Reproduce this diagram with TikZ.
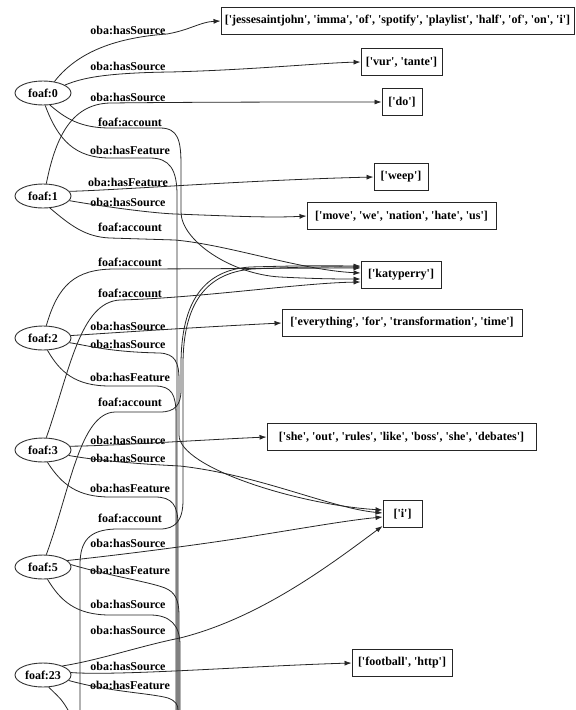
\documentclass[tikz,border=0pt]{standalone}
\usepackage{fontspec}
\setmainfont{Liberation Serif}
\usetikzlibrary{shapes.geometric,arrows.meta}
\newcommand\lab{\bfseries\fontsize{12}{14}\selectfont}
\newcommand\sq[1]{\textquotesingle#1\textquotesingle}
\begin{document}
\begin{tikzpicture}[x=1pt,y=-1pt,
  ent/.style={ellipse, draw=black!80, line width=0.9pt, minimum width=56pt, minimum height=24pt, inner sep=0pt, font=\lab},
  val/.style={rectangle, draw=black!85, line width=0.9pt, minimum height=27pt, inner xsep=3pt, font=\lab},
  elab/.style={font=\lab, inner sep=0pt},
  rel/.style={draw=black!85, line width=0.8pt},
  arr/.style={rel, -{Latex[length=7pt,width=5pt]}}]
\useasboundingbox (0,0) rectangle (576,710);
\fill[white] (0,0) rectangle (576,710);
% entity nodes
\node[ent] (f0) at (43,93) {foaf:0};
\node[ent] (f1) at (43,196) {foaf:1};
\node[ent] (f2) at (43,338) {foaf:2};
\node[ent] (f3) at (43,450) {foaf:3};
\node[ent] (f5) at (43,567) {foaf:5};
\node[ent] (f23) at (43,675) {foaf:23};
% value nodes
\node[val, minimum width=353pt] (jesse) at (397.5,21) {[\sq{jessesaintjohn}, \sq{imma}, \sq{of}, \sq{spotify}, \sq{playlist}, \sq{half}, \sq{of}, \sq{on}, \sq{i}]};
\node[val, minimum width=81pt] (vur) at (401.5,62) {[\sq{vur}, \sq{tante}]};
\node[val, minimum width=40pt] (do) at (402,102) {[\sq{do}]};
\node[val, minimum width=54pt] (weep) at (401,177) {[\sq{weep}]};
\node[val, minimum width=189pt] (move) at (401.5,216) {[\sq{move}, \sq{we}, \sq{nation}, \sq{hate}, \sq{us}]};
\node[val, minimum width=80pt] (kp) at (401,275) {[\sq{katyperry}]};
\node[val, minimum width=240pt] (every) at (402,323) {[\sq{everything}, \sq{for}, \sq{transformation}, \sq{time}]};
\node[val, minimum width=269pt] (she) at (401.5,437) {[\sq{she}, \sq{out}, \sq{rules}, \sq{like}, \sq{boss}, \sq{she}, \sq{debates}]};
\node[val, minimum width=39pt] (vi) at (402.5,514) {[\sq{i}]};
\node[val, minimum width=100pt] (foot) at (402,663) {[\sq{football}, \sq{http}]};
% free ends at the lower edge
\coordinate (b0) at (177,710);
\coordinate (b2) at (176,710);
\coordinate (b3) at (178,710);
\coordinate (b5a) at (179,710);
\coordinate (b5b) at (180,710);
\coordinate (b23a) at (178,710);
\coordinate (b23b) at (68,710);
\coordinate (xs) at (80,710);
% edge labels
\node[elab] (l1) at (128,30) {oba:hasSource};
\node[elab] (l2) at (128,66) {oba:hasSource};
\node[elab] (l3) at (128,97) {oba:hasSource};
\node[elab] (l4) at (130,122) {foaf:account};
\node[elab] (l5) at (130,150) {oba:hasFeature};
\node[elab] (l6) at (128,182) {oba:hasFeature};
\node[elab] (l7) at (128,202) {oba:hasSource};
\node[elab] (l8) at (130,227) {foaf:account};
\node[elab] (l9) at (130,262) {foaf:account};
\node[elab] (l10) at (130,293) {foaf:account};
\node[elab] (l11) at (128,326) {oba:hasSource};
\node[elab] (l12) at (128,344) {oba:hasSource};
\node[elab] (l13) at (130,377) {oba:hasFeature};
\node[elab] (l14) at (130,402) {foaf:account};
\node[elab] (l15) at (128,440) {oba:hasSource};
\node[elab] (l16) at (128,458) {oba:hasSource};
\node[elab] (l17) at (130,488) {oba:hasFeature};
\node[elab] (l18) at (130,518) {foaf:account};
\node[elab] (l19) at (128,543) {oba:hasSource};
\node[elab] (l20) at (130,570) {oba:hasFeature};
\node[elab] (l21) at (128,604) {oba:hasSource};
\node[elab] (l22) at (128,630) {oba:hasSource};
\node[elab] (l23) at (128,666) {oba:hasSource};
\node[elab] (l24) at (130,685) {oba:hasFeature};
% foaf:0
\draw[arr] (f0.45) .. controls (75,55) and (110,38) .. (167,34) .. controls (190,30) and (200,22) .. (jesse.west);
\draw[arr] (f0.20) .. controls (78,80) and (95,73) .. (170,72) .. controls (250,70) and (320,63) .. (vur.west);
\draw[arr] (f0.-60) .. controls (65,118) and (80,128) .. (110,128) -- (160,128) .. controls (178,128) and (181,140) .. (181,165) -- (181,212) .. controls (181,240) and (230,274) .. (280,277) .. controls (320,279) and (340,279) .. ([yshift=-4pt]kp.west);
\draw[rel] (f0.-80) .. controls (58,140) and (75,158) .. (110,158) -- (150,158) .. controls (170,158) and (177,170) .. (177,195) -- (b0);
% foaf:1
\draw[arr] (f1.75) .. controls (55,140) and (70,104) .. (110,103) .. controls (200,102) and (300,102) .. (do.west);
\draw[arr] (f1.10) .. controls (120,190) and (250,180) .. (weep.west);
\draw[arr] (f1.-10) .. controls (100,206) and (150,213) .. (175,214) .. controls (230,216) and (270,218) .. (move.west);
\draw[arr] (f1.-60) .. controls (70,225) and (85,237) .. (110,238) -- (175,240) .. controls (230,245) and (300,270) .. ([yshift=2pt]kp.west);
% foaf:2
\draw[arr] (f2.75) .. controls (58,285) and (75,269) .. (115,269) .. controls (200,269) and (300,268) .. ([yshift=7pt]kp.west);
\draw[arr] (f2.5) .. controls (110,333) and (200,327) .. (every.west);
\draw[arr] (f2.-10) .. controls (90,346) and (110,352) .. (160,353) .. controls (175,354) and (179,362) .. (179,380) -- (179,435) .. controls (179,468) and (300,505) .. ([yshift=4pt]vi.west);
\draw[rel] (f2.-70) .. controls (60,372) and (75,386) .. (110,386) -- (155,386) .. controls (172,386) and (176,395) .. (176,415) -- (b2);
% foaf:3
\draw[arr] (f3.75) .. controls (70,370) and (80,302) .. (120,300) .. controls (200,298) and (300,283) .. ([yshift=-7pt]kp.west);
\draw[arr] (f3.8) .. controls (110,446) and (200,440) .. (she.west);
\draw[arr] (f3.-12) .. controls (100,461) and (140,464) .. (180,466) .. controls (260,475) and (330,508) .. ([yshift=1pt]vi.west);
\draw[rel] (f3.-70) .. controls (62,485) and (78,497) .. (110,497) -- (155,497) .. controls (172,497) and (178,505) .. (178,525) -- (b3);
% foaf:5
\draw[arr] (f5.75) .. controls (70,490) and (80,413) .. (115,412) -- (160,412) .. controls (175,412) and (181,405) .. (181,390) -- (181,365) .. controls (181,300) and (205,270) .. (250,267) .. controls (320,265) and (340,266) .. ([yshift=9pt]kp.west);
\draw[arr] (f5.15) .. controls (110,556) and (200,545) .. (260,535) .. controls (310,527) and (350,520) .. ([yshift=-3pt]vi.west);
\draw[rel] (f5.5) .. controls (110,576) and (150,582) .. (165,588) .. controls (175,592) and (179,600) .. (179,615) -- (b5a);
\draw[rel] (f5.-70) .. controls (60,600) and (75,615) .. (110,615) -- (150,615) .. controls (170,615) and (180,625) .. (180,645) -- (b5b);
% foaf:23
\draw[arr] (f23.25) .. controls (100,660) and (140,646) .. (180,638) .. controls (260,618) and (330,565) .. ([yshift=-12pt]vi.west);
\draw[arr] (f23.5) .. controls (120,676) and (250,666) .. (foot.west);
\draw[rel] (f23.-12) .. controls (110,692) and (150,693) .. (168,698) .. controls (176,701) and (178,705) .. (b23a);
\draw[rel] (f23.-65) .. controls (62,700) .. (b23b);
% account edge from a node below the picture
\draw[arr] (xs) -- (80,565) .. controls (80,540) and (90,530) .. (115,529) -- (160,529) .. controls (176,529) and (183,520) .. (183,500) -- (183,365) .. controls (183,302) and (207,273) .. (252,269) .. controls (320,266) and (340,267) .. ([yshift=8pt]kp.west);
\end{tikzpicture}
\end{document}
